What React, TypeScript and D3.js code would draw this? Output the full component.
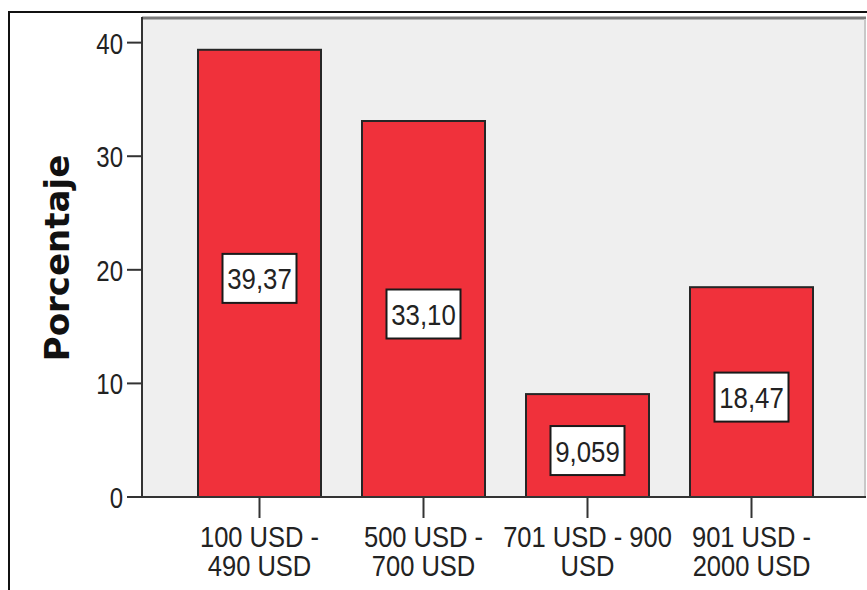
import React from "react";
import * as d3 from "d3";

const categories = ["100 USD -\n490 USD", "500 USD -\n700 USD", "701 USD - 900\nUSD", "901 USD -\n2000 USD"];
const values = [39.37, 33.10, 9.059, 18.47];
const valueLabels = ["39,37", "33,10", "9,059", "18,47"];
const yTicks = [0, 10, 20, 30, 40];
const yTitle = "Porcentaje";

const W = 867;
const H = 590;
const plotLeft = 142;
const plotRight = 866;
const plotTop = 19;
const plotBottom = 497;

const font = "'Liberation Sans', Arial, sans-serif";

function NText({ x, y, anchor, sx, size = 30, children }: { x: number; y: number; anchor: string; sx: number; size?: number; children: React.ReactNode }) {
  return (
    <g transform={`translate(${x},${y}) scale(${sx},1)`}>
      <text x={0} y={0} textAnchor={anchor} fontFamily={font} fontSize={size} fill="#222">
        {children}
      </text>
    </g>
  );
}

export default function App() {
  const x = d3.scaleBand<string>().domain(categories).range([198, 813]).paddingInner(0.25).paddingOuter(0);
  const y = d3.scaleLinear().domain([0, 42.08]).range([plotBottom, plotTop]);
  const boxW = 74;
  const boxH = 49;
  return (
    <svg width={W} height={H} style={{ position: "absolute", left: 0, top: 0, background: "#fff" }}>
      <rect x={9} y={12} width={W + 20} height={H + 20} fill="#fff" stroke="#111" strokeWidth={2} />
      <rect x={plotLeft} y={plotTop} width={plotRight - plotLeft} height={plotBottom - plotTop} fill="#efefef" />
      <line x1={plotLeft} x2={plotRight} y1={plotTop - 1} y2={plotTop - 1} stroke="#7a7a7a" strokeWidth={3} />
      <line x1={plotRight - 1} x2={plotRight - 1} y1={plotTop} y2={plotBottom} stroke="#c8c8c8" strokeWidth={2} />
      {categories.map((c, i) => {
        const x0 = x(c)!;
        const bw = x.bandwidth();
        const top = y(values[i]);
        const cx = x0 + bw / 2;
        const cy = (top + plotBottom) / 2 + 5;
        return (
          <g key={c}>
            <rect x={x0} y={top} width={bw} height={plotBottom - top} fill="#f0313b" stroke="#262626" strokeWidth={2} />
            <rect x={cx - boxW / 2} y={cy - boxH / 2} width={boxW} height={boxH} fill="#fff" stroke="#1a1a1a" strokeWidth={2} />
            <NText x={cx} y={cy + 11} anchor="middle" sx={0.86}>
              {valueLabels[i]}
            </NText>
          </g>
        );
      })}
      <line x1={plotLeft} x2={plotLeft} y1={plotTop - 2} y2={plotBottom} stroke="#333" strokeWidth={2} />
      <line x1={plotLeft} x2={plotRight} y1={plotBottom} y2={plotBottom} stroke="#333" strokeWidth={2} />
      {yTicks.map((t) => (
        <g key={t}>
          <line x1={127} x2={plotLeft} y1={y(t)} y2={y(t)} stroke="#333" strokeWidth={2} />
          <NText x={123} y={y(t) + 11} anchor="end" sx={0.8}>
            {t}
          </NText>
        </g>
      ))}
      {categories.map((c) => {
        const cx = x(c)! + x.bandwidth() / 2;
        const lines = c.split("\n");
        return (
          <g key={c}>
            <line x1={cx} x2={cx} y1={plotBottom} y2={518} stroke="#333" strokeWidth={2} />
            <g transform={`translate(${cx},547) scale(0.88,1)`}>
              <text x={0} y={0} textAnchor="middle" fontFamily={font} fontSize={29} fill="#222">
                {lines.map((l, j) => (
                  <tspan key={j} x={0} dy={j === 0 ? 0 : 29}>
                    {l}
                  </tspan>
                ))}
              </text>
            </g>
          </g>
        );
      })}
      <text
        transform={`translate(69, 258) rotate(-90)`}
        textAnchor="middle"
        fontFamily="'DejaVu Sans', sans-serif"
        fontWeight="bold"
        fontSize={34}
        fill="#111"
      >
        {yTitle}
      </text>
    </svg>
  );
}
